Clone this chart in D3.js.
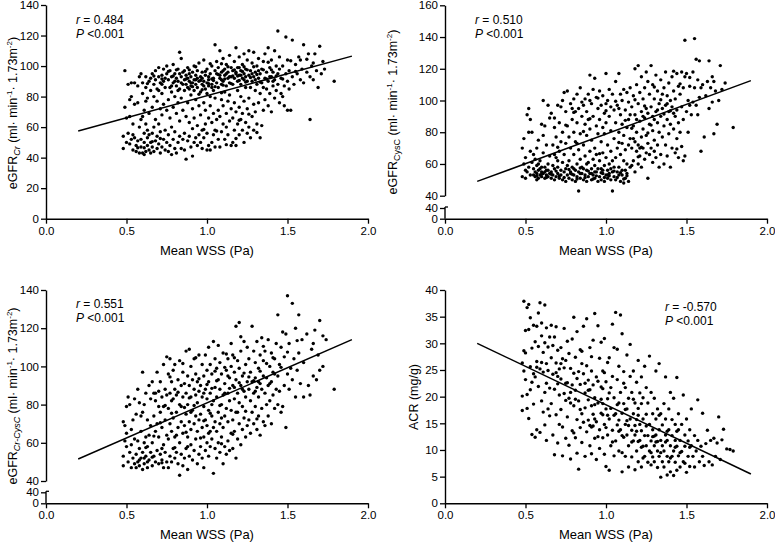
<!DOCTYPE html>
<html><head><meta charset="utf-8">
<script src="https://cdn.jsdelivr.net/npm/d3@7"></script>
<style>body{margin:0;background:#fff}svg text{font-family:Arial,"Liberation Sans",sans-serif;fill:#000}</style>
</head><body><svg id="c" width="775" height="542"></svg>
<script>
// ---------- data ----------
const xTicks=[0.0,0.5,1.0,1.5,2.0];
const crTicks=[0,20,40,60,80,100,120,140];
const cysTicks=[40,60,80,100,120,140,160];
const crcysTicks=[40,60,80,100,120,140];
const lowTicks=[0,40];
const acrTicks=[0,5,10,15,20,25,30,35,40];

const crStats=["0.484","<0.001"];
const cysStats=["0.510","<0.001"];
const crcysStats=["0.551","<0.001"];
const acrStats=["-0.570","<0.001"];

const crFit=[[0.2,57.5],[1.9,106.5]];
const cysFit=[[0.2,49],[1.9,112.5]];
const crcysFit=[[0.2,51.5],[1.9,114]];
const acrFit=[[0.2,30],[1.9,5.5]];

const crPoints=[
[0.48,46],[0.48,54],[0.49,97],[0.49,73],[0.50,50],[0.50,66],[0.51,56],[0.51,88],[0.52,49],[0.52,67],[0.52,78],[0.53,52],[0.53,80],[0.53,89],[0.54,45],[0.54,55],[0.55,75],[0.55,89],[0.55,53],[0.54,62],
[0.56,48],[0.56,44],[0.57,51],[0.57,76],[0.57,87],[0.58,43],[0.58,93],[0.58,60],[0.59,47],[0.59,52],[0.59,95],[0.60,43],[0.60,67],[0.60,82],[0.60,89],[0.61,42],[0.61,56],[0.61,71],[0.61,50],[0.62,44],[0.62,62],[0.62,86],[0.62,93],[0.63,48],[0.63,53],[0.63,58],[0.63,79],[0.64,45],[0.64,90],[0.64,69],[0.65,50],[0.65,84],[0.65,92],[0.65,43],[0.64,55],[0.62,77],[0.59,65],
[0.66,47],[0.66,56],[0.66,73],[0.66,95],[0.67,44],[0.67,60],[0.67,88],[0.67,80],[0.68,51],[0.68,65],[0.68,91],[0.68,97],[0.69,46],[0.69,54],[0.69,77],[0.69,85],[0.70,49],[0.70,62],[0.70,93],[0.70,99],[0.71,43],[0.71,57],[0.71,72],[0.71,89],[0.72,47],[0.72,68],[0.72,82],[0.72,94],[0.73,52],[0.73,75],[0.73,90],[0.73,98],[0.74,45],[0.74,58],[0.74,86],[0.74,92],[0.75,50],[0.75,71],[0.75,95],[0.75,100],[0.70,84],[0.72,88],
[0.76,44],[0.76,55],[0.76,78],[0.76,91],[0.77,48],[0.77,66],[0.77,86],[0.77,97],[0.78,42],[0.78,60],[0.78,83],[0.78,93],[0.79,52],[0.79,73],[0.79,89],[0.79,101],[0.80,46],[0.80,57],[0.80,80],[0.80,95],[0.81,43],[0.81,69],[0.81,87],[0.81,92],[0.82,50],[0.82,76],[0.82,90],[0.82,98],[0.83,54],[0.83,64],[0.83,85],[0.83,109],[0.84,46],[0.84,79],[0.84,93],[0.84,105],[0.85,52],[0.85,71],[0.85,88],[0.85,96],[0.78,87],[0.80,90],[0.82,84],[0.84,89],[0.83,95],
[0.86,45],[0.86,56],[0.86,84],[0.86,91],[0.86,97],[0.87,39],[0.87,67],[0.87,88],[0.87,94],[0.88,51],[0.88,76],[0.88,86],[0.88,92],[0.88,99],[0.89,54],[0.89,63],[0.89,90],[0.89,95],[0.90,47],[0.90,81],[0.90,87],[0.90,93],[0.91,41],[0.91,59],[0.91,72],[0.91,89],[0.91,96],[0.92,50],[0.92,66],[0.92,84],[0.92,91],[0.92,100],[0.93,53],[0.93,78],[0.93,88],[0.93,94],[0.94,48],[0.94,61],[0.94,86],[0.94,92],[0.94,97],[0.95,55],[0.95,74],[0.95,90],[0.95,102],[0.90,89],[0.93,91],[0.89,85],
[0.96,50],[0.96,68],[0.96,83],[0.96,93],[0.97,46],[0.97,58],[0.97,88],[0.97,96],[0.98,53],[0.98,76],[0.98,90],[0.98,104],[0.99,62],[0.99,71],[0.99,85],[0.99,94],[1.00,45],[1.00,56],[1.00,82],[1.00,89],[1.00,98],[1.01,48],[1.01,66],[1.01,87],[1.01,93],[1.02,45],[1.02,74],[1.02,80],[1.02,95],[1.03,50],[1.03,63],[1.03,88],[1.03,100],[1.04,55],[1.04,69],[1.04,84],[1.04,92],[1.05,47],[1.05,58],[1.05,79],[1.05,97],[1.05,114],[0.98,87],[1.01,91],[1.03,86],[0.97,92],
[1.06,65],[1.06,89],[1.06,95],[1.06,103],[1.07,52],[1.07,71],[1.07,86],[1.07,99],[1.08,47],[1.08,67],[1.08,92],[1.08,110],[1.09,57],[1.09,78],[1.09,88],[1.09,96],[1.10,62],[1.10,74],[1.10,90],[1.10,105],[1.11,52],[1.11,83],[1.11,94],[1.11,98],[1.12,60],[1.12,69],[1.12,87],[1.12,101],[1.13,55],[1.13,77],[1.13,92],[1.13,96],[1.14,64],[1.14,81],[1.14,89],[1.14,107],[1.15,48],[1.15,72],[1.15,93],[1.15,99],[1.08,94],[1.12,95],[1.10,97],[1.14,93],[1.09,91],
[1.16,50],[1.16,66],[1.16,88],[1.16,97],[1.17,58],[1.17,76],[1.17,92],[1.17,103],[1.18,48],[1.18,70],[1.18,95],[1.18,112],[1.19,62],[1.19,84],[1.19,90],[1.19,99],[1.20,55],[1.20,73],[1.20,94],[1.20,106],[1.21,65],[1.21,80],[1.21,88],[1.21,97],[1.22,58],[1.22,69],[1.22,92],[1.22,101],[1.23,50],[1.23,77],[1.23,95],[1.23,108],[1.24,63],[1.24,86],[1.24,93],[1.24,98],[1.25,56],[1.25,72],[1.25,90],[1.25,104],[1.18,96],[1.21,94],[1.23,91],[1.20,99],
[1.26,60],[1.26,79],[1.26,94],[1.26,110],[1.27,53],[1.27,86],[1.27,97],[1.28,67],[1.28,90],[1.28,102],[1.29,58],[1.29,75],[1.29,93],[1.29,109],[1.30,70],[1.30,84],[1.30,96],[1.31,62],[1.31,88],[1.31,100],[1.32,76],[1.32,92],[1.32,105],[1.33,53],[1.33,82],[1.33,95],[1.34,61],[1.34,89],[1.34,98],[1.35,71],[1.35,86],[1.35,103],[1.30,91],[1.32,97],[1.28,95],
[1.36,78],[1.36,92],[1.36,108],[1.37,85],[1.37,96],[1.38,74],[1.38,90],[1.38,112],[1.39,82],[1.39,99],[1.40,70],[1.40,93],[1.40,104],[1.41,87],[1.41,96],[1.42,79],[1.42,91],[1.42,110],[1.43,84],[1.43,100],[1.44,123],[1.44,88],[1.44,95],[1.45,76],[1.45,98],[1.45,106],[1.39,93],[1.41,90],
[1.46,82],[1.46,92],[1.47,80],[1.47,100],[1.48,74],[1.48,87],[1.49,119],[1.49,95],[1.50,71],[1.50,90],[1.50,104],[1.51,85],[1.51,97],[1.52,71],[1.53,117],[1.53,93],[1.54,88],[1.55,101],[1.56,95],[1.57,106],[1.58,91],[1.59,98],[1.60,114],[1.60,89],[1.58,104],
[1.62,96],[1.63,108],[1.64,65],[1.64,93],[1.65,100],[1.66,91],[1.67,108],[1.68,97],[1.69,86],[1.70,113],[1.71,95],[1.72,103],[1.73,98],[1.79,90],[1.66,102],
[0.87,91.5],[0.89,97.5],[0.91,86.5],[0.93,99.5],[0.96,90.5],[0.97,84.5],[0.99,96.5],[1.01,88.5],[1.02,101.5],[1.04,90.5],[1.05,86.5],[1.07,94.5],[1.09,101.5],[1.10,87.5],[1.11,91.5],[1.13,99.5],[1.15,88.5],[1.16,93.5],[1.17,97.5],[1.19,93.5],[1.20,90.5],[1.22,96.5],[1.24,89.5],[1.25,97.5],[1.27,92.5],[1.29,99.5],[1.31,94.5],[1.33,89.5],[1.35,97.5],[1.37,91.5],[1.40,97.5],[1.43,93.5],[0.76,96.5],[0.79,93.5],[0.81,97.5],[0.72,91.5],[0.67,93.5],[0.63,88.5],[0.98,58.5],[1.06,57.5],[1.12,48.5],[1.18,52.5],[0.71,52.5],[0.66,50.5],[0.57,46.5],[0.61,46.5],[1.26,68.5],[1.31,56.5],[1.20,64.5],[1.47,91.5],[1.52,103.5],[1.55,96.5],[1.62,104.5],[1.38,102.5],[1.09,82.5],[0.95,81.5],[1.03,91.5],[1.23,99.5]
];

const cysPoints=[
[0.48,70],[0.48,52],[0.49,76],[0.49,60],[0.50,64],[0.50,51],[0.51,91],[0.51,55],[0.52,95],[0.52,80],[0.52,58],[0.53,68],[0.53,53],[0.54,80],[0.54,61],[0.55,57],[0.55,53],[0.55,66],[0.50,56],[0.53,88],
[0.56,52],[0.56,55],[0.56,63],[0.57,50],[0.57,54],[0.57,59],[0.58,51],[0.58,56],[0.58,75],[0.59,53],[0.59,57],[0.59,62],[0.60,52],[0.60,85],[0.60,55],[0.61,100],[0.61,54],[0.61,67],[0.62,51],[0.62,58],[0.62,84],[0.63,53],[0.63,56],[0.63,72],[0.64,52],[0.64,60],[0.64,97],[0.65,54],[0.65,65],[0.65,89],[0.58,60],[0.60,58],[0.62,55],[0.64,56],[0.57,70],[0.61,78],
[0.66,51],[0.66,55],[0.66,92],[0.67,53],[0.67,59],[0.67,72],[0.68,50],[0.68,57],[0.68,89],[0.68,83],[0.69,52],[0.69,64],[0.69,77],[0.70,54],[0.70,58],[0.70,97],[0.71,51],[0.71,68],[0.71,86],[0.72,53],[0.72,56],[0.72,74],[0.72,96],[0.73,50],[0.73,61],[0.73,80],[0.74,55],[0.74,66],[0.74,105],[0.75,49],[0.75,57],[0.75,73],[0.75,93],[0.70,62],[0.73,100],[0.68,66],
[0.76,53],[0.76,59],[0.76,84],[0.76,106],[0.77,51],[0.77,62],[0.77,77],[0.78,55],[0.78,70],[0.78,98],[0.79,50],[0.79,58],[0.79,88],[0.80,53],[0.80,66],[0.80,80],[0.80,101],[0.81,49],[0.81,56],[0.81,74],[0.81,93],[0.82,52],[0.82,60],[0.82,86],[0.82,104],[0.83,43],[0.83,55],[0.83,69],[0.83,95],[0.84,51],[0.84,63],[0.84,79],[0.84,108],[0.85,54],[0.85,58],[0.85,90],[0.85,99],[0.78,54],[0.80,57],[0.82,73],[0.79,95],[0.84,54],
[0.86,50],[0.86,57],[0.86,72],[0.86,97],[0.87,53],[0.87,65],[0.87,85],[0.87,101],[0.88,49],[0.88,56],[0.88,78],[0.88,93],[0.89,52],[0.89,61],[0.89,88],[0.89,104],[0.90,54],[0.90,68],[0.90,82],[0.90,116],[0.91,50],[0.91,57],[0.91,75],[0.91,98],[0.92,53],[0.92,63],[0.92,90],[0.92,107],[0.93,51],[0.93,59],[0.93,70],[0.93,114],[0.94,55],[0.94,66],[0.94,84],[0.94,102],[0.95,49],[0.95,57],[0.95,79],[0.95,95],[0.88,60],[0.91,54],[0.93,55],[0.90,100],
[0.96,52],[0.96,62],[0.96,88],[0.96,106],[0.97,50],[0.97,57],[0.97,74],[0.97,97],[0.98,54],[0.98,67],[0.98,83],[0.98,103],[0.99,49],[0.99,59],[0.99,79],[0.99,92],[1.00,53],[1.00,64],[1.00,86],[1.00,117],[1.01,51],[1.01,56],[1.01,72],[1.01,100],[1.02,54],[1.02,60],[1.02,90],[1.02,107],[1.03,50],[1.03,68],[1.03,81],[1.03,96],[1.04,43],[1.04,55],[1.04,62],[1.04,104],[1.05,52],[1.05,58],[1.05,76],[1.05,94],[0.98,56],[1.01,53],[1.03,57],[1.00,98],
[1.06,50],[1.06,64],[1.06,86],[1.06,112],[1.07,55],[1.07,70],[1.07,97],[1.08,53],[1.08,58],[1.08,80],[1.08,117],[1.09,49],[1.09,66],[1.09,91],[1.09,104],[1.10,56],[1.10,73],[1.10,85],[1.10,100],[1.11,48],[1.11,62],[1.11,78],[1.11,107],[1.12,51],[1.12,69],[1.12,94],[1.13,54],[1.13,60],[1.13,83],[1.13,105],[1.14,49],[1.14,72],[1.14,88],[1.14,99],[1.15,58],[1.15,76],[1.15,91],[1.15,108],[1.10,53],[1.12,56],[1.08,95],
[1.16,59],[1.16,70],[1.16,96],[1.17,62],[1.17,84],[1.17,103],[1.18,55],[1.18,74],[1.18,91],[1.18,120],[1.19,68],[1.19,80],[1.19,110],[1.20,60],[1.20,72],[1.20,98],[1.20,122],[1.21,65],[1.21,87],[1.21,105],[1.22,58],[1.22,77],[1.22,93],[1.22,115],[1.23,70],[1.23,82],[1.23,101],[1.24,63],[1.24,89],[1.24,108],[1.25,67],[1.25,78],[1.25,95],[1.25,118],[1.19,88],[1.21,70],[1.23,90],[1.17,76],
[1.26,51],[1.26,73],[1.26,92],[1.26,112],[1.27,66],[1.27,85],[1.27,104],[1.28,70],[1.28,96],[1.28,122],[1.29,61],[1.29,81],[1.29,90],[1.29,110],[1.30,75],[1.30,88],[1.30,101],[1.31,64],[1.31,93],[1.31,116],[1.32,72],[1.32,86],[1.32,106],[1.33,58],[1.33,80],[1.33,98],[1.34,66],[1.34,90],[1.34,113],[1.35,77],[1.35,95],[1.35,104],[1.30,68],[1.32,94],
[1.36,60],[1.36,84],[1.36,108],[1.37,72],[1.37,97],[1.37,118],[1.38,65],[1.38,88],[1.38,103],[1.39,79],[1.39,93],[1.39,111],[1.40,58],[1.40,85],[1.40,100],[1.41,70],[1.41,96],[1.41,115],[1.42,82],[1.42,106],[1.43,67],[1.43,90],[1.43,101],[1.44,76],[1.44,94],[1.44,117],[1.45,64],[1.45,86],[1.45,109],[1.38,98],[1.42,92],
[1.46,80],[1.46,104],[1.47,71],[1.47,96],[1.47,118],[1.48,62],[1.48,88],[1.48,108],[1.49,138],[1.49,65],[1.49,115],[1.50,93],[1.50,117],[1.51,80],[1.51,100],[1.52,97],[1.52,109],[1.53,91],[1.54,118],[1.54,99],[1.55,139],[1.55,108],[1.56,126],[1.56,97],[1.57,113],[1.57,91],[1.58,125],[1.58,102],[1.59,68],[1.59,108],[1.60,110],
[1.61,77],[1.62,103],[1.63,112],[1.64,125],[1.64,95],[1.65,108],[1.66,115],[1.67,79],[1.67,112],[1.68,106],[1.69,85],[1.70,100],[1.71,122],[1.72,107],[1.74,111],[1.79,83],[1.66,99],
[0.57,52.5],[0.60,53.5],[0.63,51.5],[0.66,53.5],[0.69,55.5],[0.71,52.5],[0.74,51.5],[0.77,56.5],[0.79,53.5],[0.82,50.5],[0.84,57.5],[0.87,51.5],[0.89,55.5],[0.92,50.5],[0.94,52.5],[0.97,54.5],[0.99,51.5],[1.02,52.5],[1.05,55.5],[1.07,51.5],[1.09,54.5],[1.11,50.5],[1.13,52.5],[0.90,88.5],[0.95,101.5],[1.00,93.5],[1.06,99.5],[1.12,87.5],[1.18,100.5],[1.24,96.5],[1.28,84.5],[1.34,100.5],[1.40,93.5],[1.46,110.5],[1.52,114.5],[0.75,84.5],[0.80,92.5],[0.86,80.5],[1.16,82.5],[1.22,70.5],[1.30,108.5],[1.36,91.5],[1.42,118.5],[0.70,70.5],[0.96,66.5],[1.08,73.5],[1.20,64.5],[1.26,79.5],[1.44,69.5]
];

const crcysPoints=[
[0.48,48],[0.48,53],[0.48,71],[0.49,69],[0.49,61],[0.50,79],[0.50,65],[0.51,84],[0.51,50],[0.52,55],[0.52,80],[0.53,59],[0.53,47],[0.54,72],[0.54,52],[0.55,49],[0.55,83],[0.55,62],[0.50,58],[0.53,67],
[0.56,47],[0.56,54],[0.56,75],[0.57,50],[0.57,61],[0.57,88],[0.58,48],[0.58,57],[0.58,81],[0.59,52],[0.59,66],[0.59,74],[0.60,46],[0.60,55],[0.60,97],[0.61,49],[0.61,60],[0.61,80],[0.62,53],[0.62,63],[0.62,86],[0.63,47],[0.63,58],[0.63,72],[0.64,51],[0.64,64],[0.64,90],[0.65,55],[0.65,69],[0.65,83],[0.58,51],[0.61,52],[0.63,50],[0.60,76],
[0.66,48],[0.66,60],[0.66,92],[0.67,53],[0.67,74],[0.67,86],[0.68,50],[0.68,66],[0.68,82],[0.69,56],[0.69,70],[0.69,97],[0.70,49],[0.70,63],[0.70,87],[0.71,54],[0.71,76],[0.71,92],[0.72,51],[0.72,68],[0.72,84],[0.73,47],[0.73,59],[0.73,79],[0.73,101],[0.74,55],[0.74,72],[0.74,88],[0.75,50],[0.75,64],[0.75,85],[0.75,105],[0.70,79],[0.72,57],[0.68,86],
[0.76,47],[0.76,62],[0.76,78],[0.76,96],[0.77,53],[0.77,70],[0.77,86],[0.77,104],[0.78,50],[0.78,66],[0.78,82],[0.78,92],[0.79,57],[0.79,73],[0.79,98],[0.80,52],[0.80,63],[0.80,88],[0.80,101],[0.81,55],[0.81,76],[0.81,85],[0.82,49],[0.82,68],[0.82,93],[0.83,43],[0.83,60],[0.83,80],[0.83,103],[0.84,54],[0.84,71],[0.84,90],[0.85,48],[0.85,65],[0.85,84],[0.85,97],[0.79,83],[0.81,64],[0.84,79],
[0.86,52],[0.86,69],[0.86,91],[0.87,57],[0.87,75],[0.87,86],[0.87,108],[0.88,46],[0.88,63],[0.88,80],[0.88,95],[0.89,53],[0.89,71],[0.89,90],[0.89,109],[0.90,59],[0.90,67],[0.90,84],[0.90,100],[0.91,51],[0.91,77],[0.91,93],[0.92,56],[0.92,70],[0.92,88],[0.92,104],[0.93,62],[0.93,74],[0.93,96],[0.94,49],[0.94,66],[0.94,81],[0.94,92],[0.95,54],[0.95,72],[0.95,87],[0.95,106],[0.90,76],[0.93,85],[0.88,58],
[0.96,58],[0.96,75],[0.96,90],[0.97,52],[0.97,68],[0.97,84],[0.97,101],[0.98,47],[0.98,63],[0.98,79],[0.98,95],[0.99,56],[0.99,72],[0.99,88],[0.99,106],[1.00,60],[1.00,69],[1.00,83],[1.00,98],[1.01,53],[1.01,77],[1.01,92],[1.01,110],[1.02,58],[1.02,66],[1.02,86],[1.02,101],[1.03,62],[1.03,74],[1.03,96],[1.04,44],[1.04,68],[1.04,82],[1.04,113],[1.05,57],[1.05,71],[1.05,89],[1.05,104],[0.98,86],[1.01,65],[1.03,80],
[1.06,52],[1.06,66],[1.06,84],[1.06,99],[1.07,60],[1.07,76],[1.07,93],[1.07,111],[1.08,55],[1.08,70],[1.08,88],[1.08,102],[1.09,63],[1.09,80],[1.09,96],[1.10,49],[1.10,68],[1.10,85],[1.10,107],[1.11,58],[1.11,74],[1.11,91],[1.12,54],[1.12,78],[1.12,98],[1.13,61],[1.13,71],[1.13,86],[1.13,104],[1.14,56],[1.14,82],[1.14,94],[1.15,65],[1.15,77],[1.15,100],[1.15,112],[1.09,73],[1.11,86],[1.13,95],
[1.16,57],[1.16,72],[1.16,90],[1.16,106],[1.17,66],[1.17,83],[1.17,97],[1.18,52],[1.18,76],[1.18,121],[1.18,93],[1.19,62],[1.19,86],[1.19,103],[1.20,70],[1.20,81],[1.20,123],[1.20,99],[1.21,59],[1.21,90],[1.21,108],[1.22,67],[1.22,79],[1.22,95],[1.23,73],[1.23,87],[1.23,113],[1.24,63],[1.24,84],[1.24,101],[1.25,69],[1.25,92],[1.25,110],[1.19,76],[1.22,88],[1.17,89],
[1.26,72],[1.26,88],[1.26,104],[1.27,65],[1.27,82],[1.27,97],[1.28,121],[1.28,76],[1.28,92],[1.29,70],[1.29,86],[1.29,108],[1.30,79],[1.30,94],[1.30,102],[1.31,67],[1.31,89],[1.31,113],[1.32,74],[1.32,84],[1.32,99],[1.33,64],[1.33,91],[1.33,106],[1.34,78],[1.34,88],[1.34,115],[1.35,71],[1.35,95],[1.35,103],[1.30,87],[1.32,92],
[1.36,69],[1.36,86],[1.36,108],[1.37,80],[1.37,94],[1.38,74],[1.38,90],[1.38,114],[1.39,82],[1.39,100],[1.40,70],[1.40,92],[1.40,107],[1.41,85],[1.41,97],[1.42,78],[1.42,104],[1.43,88],[1.43,112],[1.44,127],[1.44,95],[1.44,80],[1.45,87],[1.45,101],[1.39,91],[1.42,96],
[1.46,76],[1.46,110],[1.47,79],[1.47,118],[1.48,90],[1.48,105],[1.49,68],[1.49,117],[1.50,137],[1.50,96],[1.51,88],[1.51,112],[1.52,99],[1.53,133],[1.53,93],[1.54,104],[1.55,84],[1.55,120],[1.56,98],[1.57,127],[1.57,107],[1.58,91],[1.59,114],[1.60,102],[1.60,84],
[1.62,117],[1.63,90],[1.64,85],[1.65,109],[1.66,95],[1.67,119],[1.68,93],[1.69,106],[1.70,124],[1.70,98],[1.72,100],[1.72,116],[1.74,114],[1.79,88],[1.66,112],
[0.62,57.5],[0.67,63.5],[0.71,70.5],[0.74,79.5],[0.78,75.5],[0.82,86.5],[0.86,78.5],[0.89,83.5],[0.92,79.5],[0.95,93.5],[0.98,71.5],[1.00,90.5],[1.03,88.5],[1.06,92.5],[1.08,79.5],[1.11,99.5],[1.14,88.5],[1.17,104.5],[1.20,91.5],[1.23,96.5],[1.26,94.5],[1.29,92.5],[1.33,97.5],[1.37,101.5],[1.41,104.5],[1.46,99.5],[0.66,52.5],[0.72,49.5],[0.80,57.5],[0.87,65.5],[0.96,62.5],[1.02,75.5],[1.09,59.5],[1.16,64.5],[1.24,76.5],[1.31,72.5],[0.77,94.5],[0.85,101.5],[0.93,104.5],[1.05,97.5],[1.12,106.5],[1.21,115.5],[1.35,110.5],[1.50,107.5],[1.56,113.5]
];

const acrPoints=[
[0.48,20.1],[0.48,17.4],[0.48,26.3],[0.49,37.9],[0.49,28.6],[0.49,24.8],[0.50,32.4],[0.50,23.2],[0.51,36.7],[0.51,20.4],[0.51,17.8],[0.52,37.3],[0.52,32.6],[0.52,15.9],[0.53,34.8],[0.53,25.6],[0.53,21.3],[0.54,29.1],[0.54,12.9],[0.55,33.4],[0.55,24.3],[0.55,18.6],[0.50,28.2],[0.54,22.7],
[0.56,30.3],[0.56,12.4],[0.56,23.7],[0.57,33.2],[0.57,26.6],[0.57,13.8],[0.58,35.7],[0.58,21.9],[0.58,29.4],[0.59,37.6],[0.59,13.3],[0.59,25.2],[0.60,31.4],[0.60,19.2],[0.60,33.8],[0.61,28.3],[0.61,17.1],[0.61,24.6],[0.62,37.2],[0.62,14.7],[0.62,20.8],[0.63,32.9],[0.63,26.2],[0.63,11.8],[0.64,29.3],[0.64,17.7],[0.64,24.9],[0.65,21.6],[0.65,31.2],[0.65,16.4],[0.60,26.4],[0.62,30.1],
[0.66,27.3],[0.66,18.7],[0.66,33.4],[0.67,24.2],[0.67,12.8],[0.67,29.6],[0.68,9.1],[0.68,21.4],[0.68,31.2],[0.69,26.3],[0.69,16.6],[0.69,33.1],[0.70,22.4],[0.70,11.3],[0.70,28.7],[0.71,25.2],[0.71,14.8],[0.71,20.3],[0.72,29.2],[0.72,17.6],[0.72,23.3],[0.73,27.1],[0.73,8.9],[0.73,14.3],[0.74,32.8],[0.74,20.6],[0.74,25.4],[0.75,19.3],[0.75,26.8],[0.75,12.2],[0.70,23.8],[0.72,26.2],
[0.76,22.6],[0.76,16.2],[0.76,30.4],[0.77,28.1],[0.77,10.9],[0.77,19.7],[0.78,25.3],[0.78,8.3],[0.78,18.8],[0.79,22.2],[0.79,13.6],[0.79,30.8],[0.80,34.9],[0.80,18.3],[0.80,24.4],[0.81,27.4],[0.81,12.3],[0.81,21.2],[0.82,32.2],[0.82,15.7],[0.82,9.4],[0.83,24.7],[0.83,6.4],[0.83,19.2],[0.84,28.8],[0.84,14.2],[0.84,22.3],[0.85,26.2],[0.85,16.8],[0.85,11.4],[0.78,20.8],[0.80,13.2],[0.82,23.4],[0.84,17.6],
[0.86,24.3],[0.86,15.2],[0.86,33.2],[0.87,20.7],[0.87,8.8],[0.87,17.9],[0.88,34.6],[0.88,25.8],[0.88,13.4],[0.89,23.1],[0.89,15.6],[0.89,19.4],[0.90,29.2],[0.90,10.8],[0.90,21.3],[0.91,24.8],[0.91,14.3],[0.91,9.3],[0.92,22.2],[0.92,16.7],[0.92,30.6],[0.93,35.6],[0.93,12.2],[0.93,19.8],[0.94,23.7],[0.94,15.3],[0.94,8.2],[0.95,33.3],[0.95,18.8],[0.95,22.9],[0.89,21.2],[0.91,18.3],[0.93,15.8],[0.90,14.6],
[0.96,27.2],[0.96,13.8],[0.96,10.3],[0.97,21.8],[0.97,16.9],[0.97,30.2],[0.98,18.7],[0.98,12.3],[0.98,24.8],[0.99,30.9],[0.99,14.8],[0.99,9.2],[1.00,22.8],[1.00,17.7],[1.00,6.9],[1.01,26.4],[1.01,12.8],[1.01,19.6],[1.02,15.8],[1.02,27.3],[1.02,6.2],[1.03,21.7],[1.03,10.8],[1.03,17.8],[1.04,33.6],[1.04,13.7],[1.04,23.8],[1.05,19.8],[1.05,8.9],[1.05,29.2],[0.98,16.6],[1.00,14.2],[1.02,20.7],
[1.06,35.8],[1.06,16.8],[1.06,11.7],[1.07,23.2],[1.07,28.9],[1.07,14.7],[1.08,18.8],[1.08,9.8],[1.08,25.7],[1.09,35.3],[1.09,13.8],[1.09,20.8],[1.10,31.8],[1.10,16.9],[1.10,5.9],[1.11,24.7],[1.11,12.4],[1.11,18.7],[1.12,21.7],[1.12,8.8],[1.12,14.8],[1.13,27.8],[1.13,12.8],[1.13,17.7],[1.14,19.7],[1.14,6.8],[1.14,10.8],[1.15,23.8],[1.15,15.8],[1.15,29.8],[1.08,15.6],[1.10,12.7],[1.12,17.6],[1.14,14.6],
[1.16,13.7],[1.16,20.8],[1.16,8.7],[1.17,16.8],[1.17,11.7],[1.17,24.8],[1.18,18.8],[1.18,6.3],[1.18,12.8],[1.19,22.7],[1.19,15.7],[1.19,9.8],[1.20,26.8],[1.20,17.8],[1.20,7.8],[1.21,20.7],[1.21,11.8],[1.21,14.8],[1.22,18.7],[1.22,6.8],[1.22,23.7],[1.23,10.7],[1.23,15.8],[1.23,19.8],[1.24,12.7],[1.24,8.8],[1.24,25.7],[1.25,16.7],[1.25,10.8],[1.25,21.7],[1.18,14.6],[1.20,11.6],[1.22,13.6],
[1.26,18.8],[1.26,7.7],[1.26,12.7],[1.27,14.8],[1.27,27.6],[1.27,9.8],[1.28,11.7],[1.28,20.8],[1.28,7.2],[1.29,16.8],[1.29,8.7],[1.29,13.8],[1.30,19.7],[1.30,10.8],[1.30,7.8],[1.31,15.8],[1.31,12.8],[1.31,24.8],[1.32,9.8],[1.32,17.7],[1.32,6.7],[1.33,13.8],[1.33,26.2],[1.33,8.8],[1.34,11.8],[1.34,4.9],[1.34,16.8],[1.35,10.8],[1.35,14.7],[1.35,7.8],[1.30,12.6],[1.32,11.6],
[1.36,18.7],[1.36,9.8],[1.36,6.8],[1.37,12.8],[1.37,15.8],[1.37,23.7],[1.38,8.8],[1.38,11.8],[1.38,5.3],[1.39,13.8],[1.39,17.7],[1.39,7.8],[1.40,10.8],[1.40,20.8],[1.40,5.9],[1.41,12.7],[1.41,8.8],[1.41,15.7],[1.42,9.8],[1.42,5.2],[1.42,19.7],[1.43,11.8],[1.43,14.8],[1.43,7.7],[1.44,23.6],[1.44,10.7],[1.44,6.2],[1.45,13.8],[1.45,8.9],[1.45,16.8],
[1.46,11.8],[1.46,6.8],[1.47,14.8],[1.47,9.7],[1.48,20.3],[1.48,7.8],[1.49,12.8],[1.49,10.7],[1.50,5.8],[1.50,15.8],[1.51,8.8],[1.51,11.7],[1.52,13.8],[1.52,6.9],[1.53,10.8],[1.53,17.7],[1.54,8.8],[1.55,12.7],[1.55,6.8],[1.56,9.8],[1.57,19.4],[1.57,11.8],[1.58,7.8],[1.59,10.7],[1.60,16.9],[1.60,8.8],[1.61,7.1],
[1.62,11.2],[1.63,13.7],[1.64,7.8],[1.65,11.8],[1.66,7.2],[1.67,12.2],[1.68,8.8],[1.69,11.3],[1.70,16.2],[1.71,8.2],[1.72,11.9],[1.73,13.9],[1.75,10.2],[1.77,10.1],[1.79,9.8],
[0.92,14.5],[0.95,12.5],[0.98,21.5],[1.01,16.5],[1.04,11.5],[1.07,18.5],[1.10,9.5],[1.13,15.5],[1.16,11.5],[1.19,13.5],[1.22,10.5],[1.25,14.5],[1.28,9.5],[1.31,11.5],[1.34,9.5],[1.37,11.5],[1.40,8.5],[1.43,10.5],[1.46,9.5],[1.49,7.5],[1.52,10.5],[1.29,12.5],[1.23,8.5],[1.17,19.5],[1.11,22.5],[1.05,16.5],[0.99,24.5],[0.93,18.5],[0.87,22.5],[0.81,19.5],[0.75,22.5],[0.69,24.5],[0.63,22.5],[0.57,25.5],[0.85,28.5],[0.91,27.5],[0.97,19.5],[1.08,13.5],[1.20,16.5],[1.33,16.5],[1.38,13.5],[1.44,13.5]
];

const xLabel="Mean WSS (Pa)";

// ---------- layout ----------
const svg=d3.select("#c");
const panels=[
 {pts:crPoints,fit:crFit,stats:crStats,x0:46,x1:368,axisY:218.7,yTop:5,yBot:218.7,dom:[0,140],ticks:crTicks,brk:null,
  statXY:[76,24],title:{kind:"egfr",sub:"Cr",subItalic:true},titleXY:[17,113]},
 {pts:cysPoints,fit:cysFit,stats:cysStats,x0:445,x1:767,axisY:218.7,yTop:5.3,yBot:195.7,dom:[40,160],ticks:cysTicks,brk:{top:208,bot:218.7},
  statXY:[475,24],title:{kind:"egfr",sub:"CysC",subItalic:false},titleXY:[397,112]},
 {pts:crcysPoints,fit:crcysFit,stats:crcysStats,x0:46,x1:368,axisY:503.3,yTop:290,yBot:481,dom:[40,140],ticks:crcysTicks,brk:{top:492.3,bot:503.3},
  statXY:[76,308],title:{kind:"egfr",sub:"Cr-CysC",subItalic:true},titleXY:[17,396]},
 {pts:acrPoints,fit:acrFit,stats:acrStats,x0:445,x1:767,axisY:503.3,yTop:290,yBot:503.3,dom:[0,40],ticks:acrTicks,brk:null,
  statXY:[665,311],title:{kind:"plain",text:"ACR (mg/g)"},titleXY:[418,397]}
];

function styleAxis(g){
  g.select(".domain").attr("stroke","#000").attr("stroke-width",1.4);
  g.selectAll(".tick line").attr("stroke","#000").attr("stroke-width",1.3);
  g.selectAll(".tick text").attr("font-size","11.5px").attr("fill","#000").attr("font-family","Arial, 'Liberation Sans', sans-serif");
}

panels.forEach(p=>{
  const x=d3.scaleLinear().domain([0,2]).range([p.x0,p.x1]);
  const y=d3.scaleLinear().domain(p.dom).range([p.yBot,p.yTop]);
  const gx=svg.append("g").attr("transform",`translate(0,${p.axisY})`)
    .call(d3.axisBottom(x).tickValues(xTicks).tickFormat(d3.format(".1f")).tickSize(5).tickSizeOuter(0).tickPadding(3));
  styleAxis(gx);
  const fmt=d3.format("d");
  const gy=svg.append("g").attr("transform",`translate(${p.x0},0)`)
    .call(d3.axisLeft(y).tickValues(p.ticks).tickFormat(fmt).tickSize(5).tickSizeOuter(0).tickPadding(2));
  styleAxis(gy);
  if(p.brk){
    const yl=d3.scaleLinear().domain([0,40]).range([p.brk.bot,p.brk.top]);
    const gl=svg.append("g").attr("transform",`translate(${p.x0},0)`)
      .call(d3.axisLeft(yl).tickValues(lowTicks).tickFormat(fmt).tickSize(5).tickSizeOuter(0).tickPadding(2));
    styleAxis(gl);
    gl.select(".domain").attr("d",`M0,${p.brk.top-1}V${p.brk.bot}`);
    svg.append("line").attr("x1",p.x0).attr("x2",p.x0+3).attr("y1",p.brk.top-1).attr("y2",p.brk.top-1)
      .attr("stroke","#000").attr("stroke-width",1.3);
  }
  svg.append("text").attr("x",(p.x0+p.x1)/2).attr("y",p.axisY+36).attr("text-anchor","middle")
    .attr("font-size","13px").text(xLabel);
  const t=svg.append("text").attr("transform",`translate(${p.titleXY[0]},${p.titleXY[1]}) rotate(-90)`)
    .attr("text-anchor","middle").attr("font-size","12.5px");
  if(p.title.kind==="plain"){ t.text(p.title.text); }
  else{
    t.append("tspan").text("eGFR");
    t.append("tspan").attr("font-size","9px").attr("dy",3).attr("font-style",p.title.subItalic?"italic":"normal").text(p.title.sub);
    t.append("tspan").attr("dy",-3).text(" (ml· min");
    t.append("tspan").attr("font-size","8px").attr("dy",-5).text("-1");
    t.append("tspan").attr("dy",5).text("· 1.73m");
    t.append("tspan").attr("font-size","8px").attr("dy",-5).text("-2");
    t.append("tspan").attr("dy",5).text(")");
  }
  const s1=svg.append("text").attr("x",p.statXY[0]).attr("y",p.statXY[1]).attr("font-size","12px");
  s1.append("tspan").attr("font-style","italic").text("r");
  s1.append("tspan").text(" = "+p.stats[0]);
  const s2=svg.append("text").attr("x",p.statXY[0]).attr("y",p.statXY[1]+14).attr("font-size","12px");
  s2.append("tspan").attr("font-style","italic").text("P");
  s2.append("tspan").text(" "+p.stats[1]);
  svg.append("g").selectAll("circle").data(p.pts).join("circle")
    .attr("cx",d=>x(d[0])).attr("cy",d=>y(d[1])).attr("r",1.7).attr("fill","#000");
  svg.append("path").datum(p.fit).attr("fill","none").attr("stroke","#000").attr("stroke-width",1.5)
    .attr("d",d3.line().x(d=>x(d[0])).y(d=>y(d[1])));
});
</script></body></html>
